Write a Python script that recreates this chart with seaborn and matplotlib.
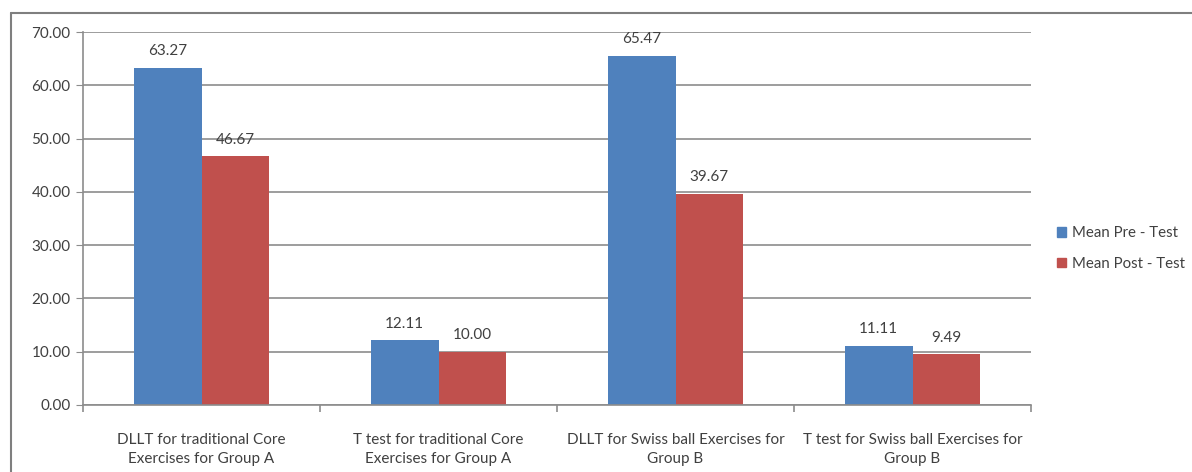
import matplotlib
matplotlib.use("Agg")
import matplotlib.pyplot as plt
import seaborn as sns
import pandas as pd
from matplotlib.lines import Line2D
from matplotlib.ticker import FixedLocator, FuncFormatter

categories = [
    "DLLT for traditional Core\nExercises for Group A",
    "T test for traditional Core\nExercises for Group A",
    "DLLT for Swiss ball Exercises for\nGroup B",
    "T test for Swiss ball Exercises for\nGroup B",
]
series = ["Mean Pre - Test", "Mean Post - Test"]
pre_values = [63.27, 12.11, 65.47, 11.11]
post_values = [46.67, 10.00, 39.67, 9.49]
colors = ["#4F81BD", "#C0504D"]

df = pd.DataFrame({
    "category": categories * 2,
    "series": [series[0]] * 4 + [series[1]] * 4,
    "value": pre_values + post_values,
})

sns.set_style("white")
plt.rcParams["font.family"] = ["Lato", "DejaVu Sans"]
text_color = "#404040"
grid_color = "#8C8C8C"

fig = plt.figure(figsize=(11.92, 4.72), dpi=100)
ax = fig.add_axes([83 / 1192, 67 / 472, (1031 - 83) / 1192, (405 - 32) / 472])

sns.barplot(data=df, x="category", y="value", hue="series",
            palette=colors, width=0.57, saturation=1, ax=ax,
            edgecolor="none", linewidth=0)

for container in ax.containers:
    ax.bar_label(container, labels=[f"{v:.2f}" for v in container.datavalues],
                 padding=7, fontsize=11, color=text_color)

ax.set_ylim(0, 70)
ax.set_xlim(-0.5, 3.5)
ax.set_yticks(range(0, 71, 10))
ax.yaxis.set_major_formatter(FuncFormatter(lambda v, p: f"{v:.2f}"))
ax.yaxis.grid(True, color=grid_color, linewidth=1.2)
ax.set_axisbelow(True)
ax.set_xlabel("")
ax.set_ylabel("")

for side in ["top", "right"]:
    ax.spines[side].set_visible(False)
for side in ["left", "bottom"]:
    ax.spines[side].set_color(grid_color)
    ax.spines[side].set_linewidth(1.2)

ax.tick_params(axis="y", direction="out", length=5, color=grid_color,
               labelsize=11, labelcolor=text_color, pad=4, left=True)
ax.tick_params(axis="x", which="major", length=0, labelsize=11,
               labelcolor=text_color, pad=20)
for lbl in ax.get_xticklabels():
    lbl.set_linespacing(1.45)
ax.xaxis.set_minor_locator(FixedLocator([-0.5, 0.5, 1.5, 2.5, 3.5]))
ax.tick_params(axis="x", which="minor", direction="out", length=5,
               color=grid_color, width=1.2, bottom=True)

handles = [plt.Rectangle((0, 0), 1, 1, color=c) for c in colors]
ax.legend(handles, series, loc="center left", bbox_to_anchor=(1.0, 0.42),
          frameon=False, fontsize=10.8, handlelength=0.6, handleheight=0.6,
          handletextpad=0.4, labelspacing=1.1, labelcolor=text_color,
          borderaxespad=1.3)

# outer chart frame
fig.add_artist(Line2D([11 / 1192, 1], [1 - 13 / 472, 1 - 13 / 472],
                      transform=fig.transFigure, color="#7F7F7F", linewidth=1.5))
fig.add_artist(Line2D([11 / 1192, 11 / 1192], [0, 1 - 13 / 472],
                      transform=fig.transFigure, color="#7F7F7F", linewidth=1.5))

fig.savefig("out.png", dpi=100)
